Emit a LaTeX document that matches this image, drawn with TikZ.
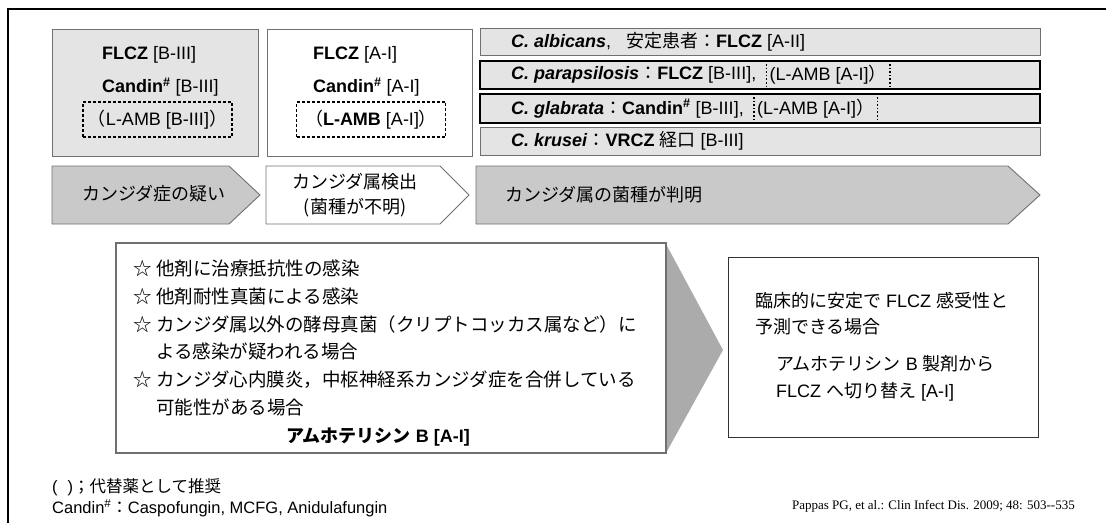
\documentclass[tikz,border=0pt]{standalone}
\usepackage{fontspec}
\setmainfont{Liberation Sans}
\newfontfamily\jp{Noto Sans CJK JP}
\newfontfamily\tms{Liberation Serif}
\usetikzlibrary{positioning}
\definecolor{boxgray}{HTML}{E4E4E4}
\definecolor{chevgray}{HTML}{C9C9C9}
\definecolor{edgegray}{HTML}{707070}
\definecolor{trigray}{HTML}{ABABAB}
\newcommand{\mystar}{\makebox[23pt][l]{\jp ☆}}
\begin{document}
\begin{tikzpicture}[x=1pt,y=-1pt,
  txt/.style={inner sep=0pt, anchor=west, font=\fontsize{18}{22}\selectfont},
  ctxt/.style={inner sep=0pt, anchor=center, font=\fontsize{18}{22}\selectfont},
  ltxt/.style={inner sep=0pt, anchor=west, font=\fontsize{18.5}{22}\selectfont\jp},
  topbox/.style={draw=edgegray, line width=0.9pt},
  bar/.style={fill=boxgray, draw=edgegray, line width=0.9pt},
  thickbar/.style={fill=boxgray, draw=black, line width=2.2pt},
  dashbox/.style={draw=black, line width=1.6pt, dash pattern=on 3pt off 2pt,
     minimum width=149pt, minimum height=35pt, inner sep=0pt, font=\fontsize{18}{22}\selectfont},
  dotv/.style={draw=black, line width=1.6pt, dash pattern=on 1.6pt off 2pt},
  chev/.style={fill=chevgray, draw=edgegray, line width=0.9pt},
  chevw/.style={fill=white, draw=edgegray, line width=0.9pt},
  footf/.style={inner sep=0pt, anchor=west, font=\fontsize{16.5}{20}\selectfont}
]
\useasboundingbox (0,0) rectangle (1106,523);
% outer frame
\draw[line width=1.4pt] (8,523) -- (8,9) -- (1106,9);

% top-left boxes
\draw[topbox, fill=boxgray] (52,29) rectangle (258,156);
\draw[topbox, fill=white] (267,29) rectangle (472,156);
\node[txt] (b1a) at (102,55) {\textbf{FLCZ} [B-III]};
\node[txt] (b1b) at (102,87) {\textbf{Candin\textsuperscript{\#}} [B-III]};
\node[dashbox] (b1c) at (157.5,119.5) {{\jp （}L-AMB [B-III]{\jp ）}};
\node[txt] (b2a) at (313,55) {\textbf{FLCZ} [A-I]};
\node[txt] (b2b) at (313,87) {\textbf{Candin\textsuperscript{\#}} [A-I]};
\node[dashbox] (b2c) at (371,119.5) {{\jp （}\textbf{L-AMB} [A-I]{\jp ）}};

% species bars
\draw[bar] (480,28) rectangle (1040,55);
\draw[thickbar] (480,61) rectangle (1040,89);
\draw[thickbar] (480,94) rectangle (1040,123);
\draw[bar] (480,127) rectangle (1040,155);
\coordinate (t2) at (0,64);
\coordinate (u2) at (0,86);
\coordinate (t3) at (0,97);
\coordinate (u3) at (0,120);
\node[txt] (s1) at (511,41.5) {\textbf{\textit{C. albicans}},\hspace{15pt}{\jp 安定患者：}\textbf{FLCZ} [A-II]};
\node[txt] (s2) at (511,75) {\textbf{\textit{C. parapsilosis}}{\jp ：}\textbf{FLCZ} [B-III],};
\node[txt, inner xsep=3pt, right=10pt of s2] (s2b) {(L-AMB [A-I]{\jp ）}};
\draw[dotv] (s2b.west |- t2) -- (s2b.west |- u2);
\draw[dotv] (s2b.east |- t2) -- (s2b.east |- u2);
\node[txt] (s3) at (511,108.5) {\textbf{\textit{C. glabrata}}{\jp ：}\textbf{Candin\textsuperscript{\#}} [B-III],};
\node[txt, inner xsep=3pt, right=10pt of s3] (s3b) {(L-AMB [A-I]{\jp ）}};
\draw[dotv] (s3b.west |- t3) -- (s3b.west |- u3);
\draw[dotv] (s3b.east |- t3) -- (s3b.east |- u3);
\node[txt] (s4) at (511,141) {\textbf{\textit{C. krusei}}{\jp ：}\textbf{VRCZ} {\jp 経口} [B-III]};

% chevrons
\draw[chev] (52,166) -- (229,166) -- (260,195) -- (229,224) -- (52,224) -- cycle;
\draw[chevw] (266,166) -- (440,166) -- (469,195) -- (440,224) -- (266,224) -- cycle;
\draw[chev] (476,166) -- (1008,166) -- (1040,195) -- (1008,224) -- (476,224) -- cycle;
\node[ctxt] (c1) at (154,194) {\jp カンジダ症の疑い};
\node[ctxt, align=center] (c2) at (355,195) {\jp カンジダ属検出\\[3pt]\jp (菌種が不明)};
\node[txt] (c3) at (505,195) {\jp カンジダ属の菌種が判明};

% lower box with arrow
\fill[trigray] (666,244) -- (723,350) -- (666,453) -- cycle;
\draw[draw=edgegray, line width=1.3pt, fill=white] (116,243) rectangle (666,453);
\node[ltxt] (l1) at (133,268) {\mystar 他剤に治療抵抗性の感染};
\node[ltxt] (l2) at (133,296) {\mystar 他剤耐性真菌による感染};
\node[ltxt] (l3) at (133,324) {\mystar カンジダ属以外の酵母真菌（クリプトコッカス属など）に};
\node[ltxt] (l4) at (133,351) {\hspace{23pt}よる感染が疑われる場合};
\node[ltxt] (l5) at (133,380) {\mystar カンジダ心内膜炎，中枢神経系カンジダ症を合併している};
\node[ltxt] (l6) at (133,407) {\hspace{23pt}可能性がある場合};
\node[ctxt] (l7) at (378,437) {\textbf{{\jp アムホテリシン} B [A-I]}};

% right box
\draw[draw=black!80, line width=1pt] (728,257) rectangle (1038,437);
\node[txt] (r1) at (755,301) {{\jp 臨床的に安定で} FLCZ {\jp 感受性と}};
\node[txt] (r2) at (755,327) {\jp 予測できる場合};
\node[txt] (r3) at (776,364) {{\jp アムホテリシン} B {\jp 製剤から}};
\node[txt] (r4) at (776,392) {FLCZ {\jp へ切り替え} [A-I]};

% footer
\node[footf] (f1) at (52,487) {(\hspace{10pt}){\jp ；代替薬として推奨}};
\node[footf] (f2) at (52,508) {Candin\textsuperscript{\#}{\jp ：}Caspofungin, MCFG, Anidulafungin};
\node[inner sep=0pt, anchor=east, font=\fontsize{13}{16}\selectfont\tms] (ref) at (1075,506) {Pappas PG, et al.: Clin Infect Dis. 2009; 48: 503--535};
\end{tikzpicture}
\end{document}
